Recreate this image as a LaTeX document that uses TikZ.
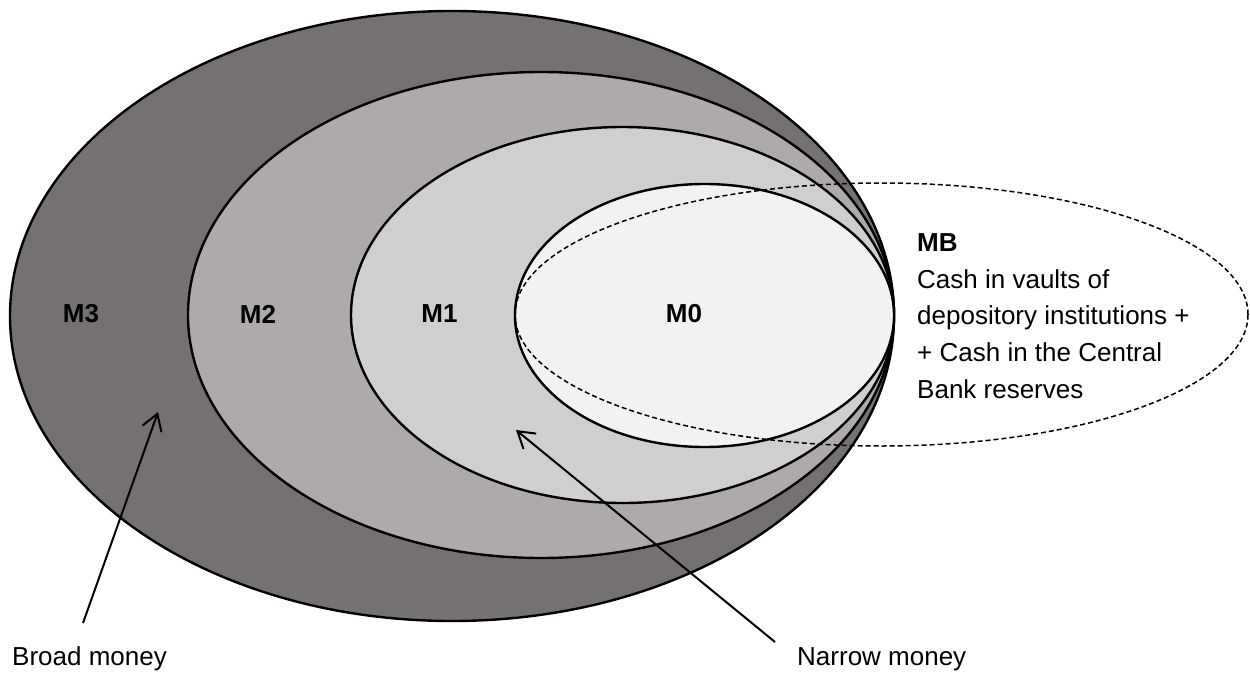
\documentclass[tikz,border=0pt]{standalone}
\usepackage{fontspec}
\setmainfont{Liberation Sans}
\usetikzlibrary{shapes.geometric,arrows.meta}
\definecolor{cmthree}{HTML}{767171}
\definecolor{cmtwo}{HTML}{AEAAAA}
\definecolor{cmone}{HTML}{D0CECE}
\definecolor{cmzero}{HTML}{F2F2F2}
\begin{document}
\begin{tikzpicture}[x=1pt,y=-1pt,
  money/.style={ellipse, draw=black, line width=2.4pt, inner sep=0pt, outer sep=0pt},
  mbset/.style={ellipse, draw=black, dash pattern=on 5pt off 3pt, line width=1.5pt, inner sep=0pt},
  lbl/.style={font=\fontsize{26pt}{36.7pt}\selectfont\bfseries, inner sep=0pt},
  txt/.style={font=\fontsize{26pt}{36.7pt}\selectfont, inner sep=0pt},
  arr/.style={line width=2pt, -{Straight Barb[length=16pt,width=20pt]}}]
\useasboundingbox (0,0) rectangle (1250,672);
\node[money, fill=cmthree, minimum width=884pt, minimum height=610pt] (m3) at (452,316) {};
\node[money, fill=cmtwo, minimum width=706pt, minimum height=486pt] (m2) at (541,315) {};
\node[money, fill=cmone, minimum width=543pt, minimum height=376pt] (m1) at (622.5,315) {};
\node[money, fill=cmzero, minimum width=379pt, minimum height=263pt] (m0) at (704.5,315.5) {};
\node[mbset, minimum width=733pt, minimum height=263pt] (mb) at (881.5,314.5) {};
\node[lbl] (l3) at (81,314) {M3};
\node[lbl] (l2) at (258,314) {M2};
\node[lbl] (l1) at (439.5,314) {M1};
\node[lbl] (l0) at (684,314) {M0};
\node[txt, align=left, anchor=north west] (mbtext) at (917,233.5) {\textbf{MB}\\Cash in vaults of\\depository institutions +\\+ Cash in the Central\\Bank reserves};
\node[txt, anchor=base west] (broad) at (12,665) {Broad money};
\node[txt, anchor=base west] (narrow) at (797,665) {Narrow money};
\coordinate (btail) at (83,623);
\coordinate (bhead) at (158,412);
\coordinate (ntail) at (775,642);
\coordinate (nhead) at (516,430);
\draw[arr] (btail) -- (bhead);
\draw[arr] (ntail) -- (nhead);
\end{tikzpicture}
\end{document}
